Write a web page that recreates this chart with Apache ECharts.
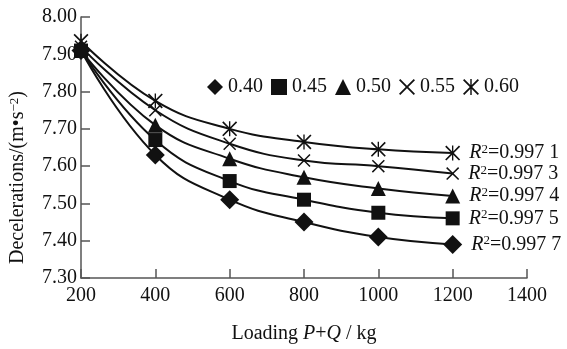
<!DOCTYPE html>
<html>
<head>
<meta charset="utf-8">
<script src="https://cdn.jsdelivr.net/npm/echarts@6/dist/echarts.min.js"></script>
<style>
  html, body { margin: 0; padding: 0; background: #fff; }
  #chart { width: 567px; height: 349px; }
</style>
</head>
<body>
<div id="chart"></div>
<script>
// 不同系数下减速度随载荷变化
const loads = [200, 400, 600, 800, 1000, 1200]
const names = ['0.40', '0.45', '0.50', '0.55', '0.60']
const v040 = [7.91, 7.63, 7.51, 7.45, 7.41, 7.39]
const v045 = [7.91, 7.67, 7.56, 7.51, 7.475, 7.46]
const v050 = [7.91, 7.71, 7.62, 7.57, 7.54, 7.52]
const v055 = [7.92, 7.75, 7.66, 7.615, 7.60, 7.58]
const v060 = [7.935, 7.775, 7.70, 7.665, 7.645, 7.635]
const r2 = ['0.997 7', '0.997 5', '0.997 4', '0.997 3', '0.997 1']

const FONT = '"Liberation Serif", "Times New Roman", serif'
const INK = '#111'
const FS = 20

const crossPath = 'path://M0,1.6L1.6,0L10,8.4L18.4,0L20,1.6L11.6,10L20,18.4L18.4,20L10,11.6L1.6,20L0,18.4L8.4,10Z'
const starPath = crossPath + 'M9.1,0L10.9,0L10.9,20L9.1,20Z'

const symbols = ['diamond', 'rect', 'triangle', crossPath, starPath]
const sizes = [19, 14, 15, 13, 15]
const values = [v040, v045, v050, v055, v060]

const chart = echarts.init(document.getElementById('chart'), null, { renderer: 'canvas' })

const series = names.map((n, i) => ({
  name: n,
  type: 'line',
  smooth: 0.45,
  symbol: symbols[i],
  symbolSize: sizes[i],
  showAllSymbol: true,
  lineStyle: { color: INK, width: 2 },
  itemStyle: { color: INK },
  z: 10 - i,
  data: values[i].map((v, k) => {
    const item = { value: [loads[k], v] }
    if (k === loads.length - 1) {
      item.label = {
        show: true,
        position: 'right',
        distance: 9,
        formatter: '{r|R}{s|2}{t|=' + r2[i] + '}',
        rich: {
          r: { fontFamily: FONT, fontSize: FS, fontStyle: 'italic', color: INK },
          s: { fontFamily: FONT, fontSize: 13, color: INK, verticalAlign: 'top', padding: [0, 0, 6, 0] },
          t: { fontFamily: FONT, fontSize: FS, color: INK },
        },
      }
    }
    return item
  }),
}))

const option = {
  animation: false,
  backgroundColor: '#fff',
  grid: { left: 81, right: 40, top: 17, bottom: 70 },
  legend: {
    left: 202,
    top: 72,
    itemWidth: 16,
    itemHeight: 16,
    itemGap: 8,
    textStyle: { fontFamily: FONT, fontSize: FS, color: INK },
    data: names.map((n, i) => ({ name: n, icon: symbols[i] })),
  },
  xAxis: {
    type: 'value',
    min: 200,
    max: 1400,
    interval: 200,
    name: '{n|Loading }{i|P}{n|+}{i|Q}{n| / kg}',
    nameLocation: 'middle',
    nameGap: 46,
    nameTextStyle: {
      rich: {
        n: { fontFamily: FONT, fontSize: FS, color: INK },
        i: { fontFamily: FONT, fontSize: FS, fontStyle: 'italic', color: INK },
      },
    },
    axisLine: { lineStyle: { color: '#555', width: 1.5 } },
    axisTick: { inside: true, length: 9, lineStyle: { color: '#555', width: 1.5 } },
    axisLabel: { fontFamily: FONT, fontSize: FS, color: INK, margin: 8, formatter: (v) => String(v) },
    splitLine: { show: false },
  },
  yAxis: {
    type: 'value',
    min: 7.3,
    max: 8.0,
    interval: 0.1,
    name: '{n|Decelerations/(m•s}{s|−2}{n|)}',
    nameLocation: 'middle',
    nameGap: 53,
    nameRotate: 90,
    nameTextStyle: {
      padding: [0, 60, 0, 0],
      rich: {
        n: { fontFamily: FONT, fontSize: FS, color: INK },
        s: { fontFamily: FONT, fontSize: 13, color: INK, verticalAlign: 'top', padding: [0, 0, 6, 0] },
      },
    },
    axisLine: { show: true, lineStyle: { color: '#555', width: 1.5 } },
    axisTick: { show: true, inside: true, length: 9, lineStyle: { color: '#555', width: 1.5 } },
    axisLabel: { fontFamily: FONT, fontSize: FS, color: INK, margin: 4, formatter: (v) => v.toFixed(2) },
    splitLine: { show: false },
  },
  series: series,
}

chart.setOption(option)
</script>
</body>
</html>
